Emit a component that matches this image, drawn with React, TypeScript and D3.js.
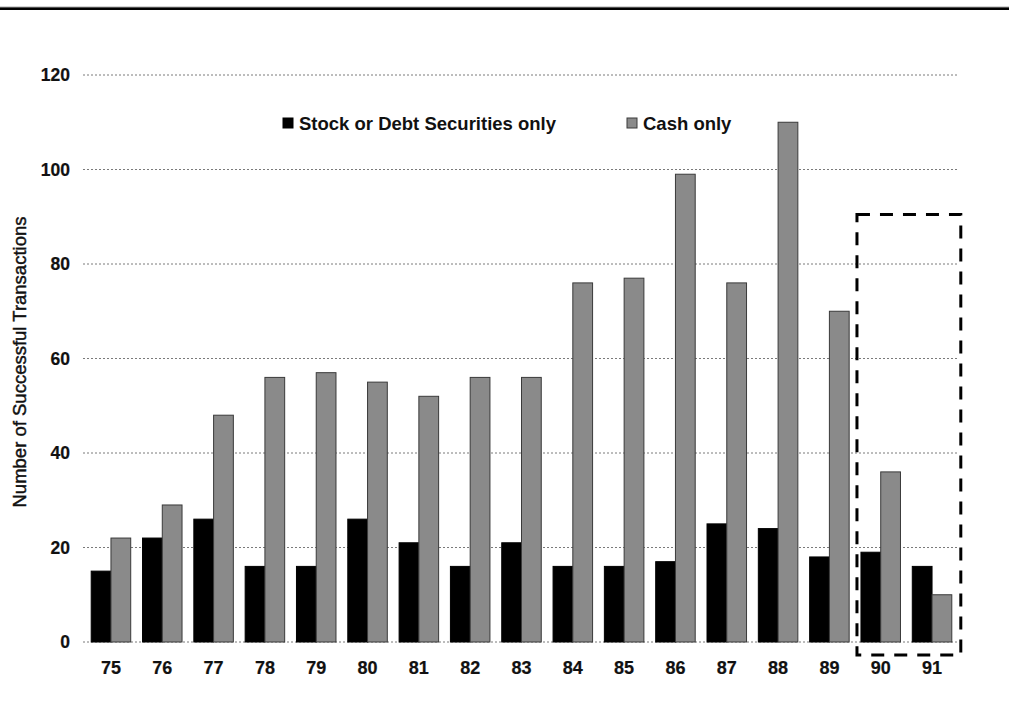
import React from "react";
import * as d3 from "d3";

const categories = ["75","76","77","78","79","80","81","82","83","84","85","86","87","88","89","90","91"];
const stockValues = [15,22,26,16,16,26,21,16,21,16,16,17,25,24,18,19,16];
const cashValues = [22,29,48,56,57,55,52,56,56,76,77,99,76,110,70,36,10];
const yTicks = [0,20,40,60,80,100,120];
const seriesNames = ["Stock or Debt Securities only", "Cash only"];
const highlighted = ["90","91"];
const highlightTop = 90.5;

const W = 1009, H = 717;
const FONT = "'Liberation Sans', Arial, Helvetica, sans-serif";

export default function App() {
  const x = d3.scaleBand<string>().domain(categories).range([85.3, 957.7]).paddingInner(0.23).paddingOuter(0.115);
  const y = d3.scaleLinear().domain([0, 120]).range([642, 75]);
  const bw = x.bandwidth() / 2;
  const gridX0 = 83, gridX1 = 957;

  const boxL = (x(highlighted[0]) as number) - 4;
  const boxR = (x(highlighted[1]) as number) + x.bandwidth() + 9;
  const boxT = y(highlightTop);
  const boxB = y(0) + 13;

  return (
    <svg width={W} height={H} style={{ position: "absolute", left: 0, top: 0, background: "#fff" }} fontFamily={FONT}>
      <rect x={0} y={0} width={W} height={H} fill="#fff" />
      <line x1={0} x2={W} y1={7.2} y2={7.2} stroke="#555" strokeWidth={0.8} />
      <line x1={0} x2={W} y1={8.8} y2={8.8} stroke="#000" strokeWidth={2.6} />

      {yTicks.map(t => (
        <g key={t}>
          <line x1={gridX0} x2={gridX1} y1={y(t)} y2={y(t)} stroke="#7a7a7a" strokeWidth={1} strokeDasharray="2,2" />
          <text x={70} y={y(t)} dy="0.36em" textAnchor="end" fontSize={17.5} fontWeight="bold" fill="#111" stroke="#111" strokeWidth={0.2}>{t}</text>
        </g>
      ))}

      {categories.map((c, i) => {
        const x0 = x(c) as number;
        return (
          <g key={c}>
            <rect x={x0} y={y(stockValues[i])} width={bw} height={y(0) - y(stockValues[i])} fill="#000" stroke="#000" strokeWidth={1} />
            <rect x={x0 + bw} y={y(cashValues[i])} width={bw} height={y(0) - y(cashValues[i])} fill="#8a8a8a" stroke="#3a3a3a" strokeWidth={1} />
            <text x={x0 + x.bandwidth() / 2} y={674} textAnchor="middle" fontSize={18} fontWeight="bold" fill="#111" stroke="#111" strokeWidth={0.2}>{c}</text>
          </g>
        );
      })}

      <rect x={boxL} y={boxT} width={boxR - boxL} height={boxB - boxT} fill="none" stroke="#000" strokeWidth={3} strokeDasharray="13,10" />

      <text transform={`translate(26,362) rotate(-90)`} textAnchor="middle" fontSize={18.5} fill="#111" stroke="#111" strokeWidth={0.45}>Number of Successful Transactions</text>

      <g>
        <rect x={283} y={118} width={10} height={10} fill="#000" stroke="#000" />
        <text x={299} y={129.5} fontSize={18.5} fontWeight="bold" fill="#111">{seriesNames[0]}</text>
        <rect x={627} y={118} width={10} height={10} fill="#8a8a8a" stroke="#3a3a3a" />
        <text x={643} y={129.5} fontSize={18.5} fontWeight="bold" fill="#111">{seriesNames[1]}</text>
      </g>
    </svg>
  );
}
